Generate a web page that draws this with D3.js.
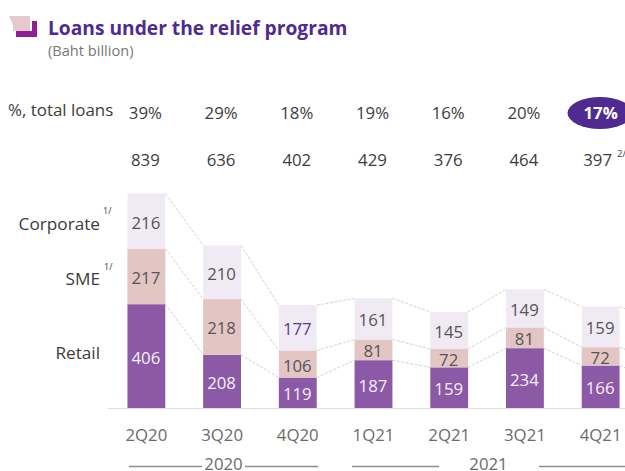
<!DOCTYPE html>
<html>
<head>
<meta charset="utf-8">
<style>
  html, body { margin: 0; padding: 0; background: #fff; }
  svg { display: block; }
  text { font-family: "Open Sans", "Noto Sans", sans-serif; }
</style>
</head>
<body>
<svg id="chart" width="625" height="471"></svg>
<script src="https://cdn.jsdelivr.net/npm/d3@7/dist/d3.min.js"></script>
<script>
const quarters = ["2Q20", "3Q20", "4Q20", "1Q21", "2Q21", "3Q21", "4Q21"];
const retail = [406, 208, 119, 187, 159, 234, 166];
const sme = [217, 218, 106, 81, 72, 81, 72];
const corporate = [216, 210, 177, 161, 145, 149, 159];
const totals = [839, 636, 402, 429, 376, 464, 397];
const shareOfLoans = ["39%", "29%", "18%", "19%", "16%", "20%", "17%"];
const segmentNames = ["Retail", "SME", "Corporate"];
const segmentFills = ["#8b59a6", "#e3c6c4", "#efeaf4"];
const segmentInk = ["#f6f0f8", "#555555", "#555555"];

const svg = d3.select("#chart");
const darkInk = "#3c3c3c";
const greyInk = "#6b6b6b";
const brand = "#4f2a90";
const bodySize = 16.8;

const x = d3.scaleBand().domain(quarters).range([108.5, 638.5]).paddingInner(0.5).paddingOuter(0.25);
const y = d3.scaleLinear().domain([0, 839]).range([408, 193.5]);

// Stack the three segments per quarter
const rows = quarters.map((q, i) => ({ q, Retail: retail[i], SME: sme[i], Corporate: corporate[i] }));
const stacked = d3.stack().keys(segmentNames)(rows);

// Dotted-looking connectors between neighbouring bars
const connectors = svg.append("g").attr("stroke", "#d2d2d2").attr("stroke-width", 1).attr("stroke-dasharray", "3 1.5").attr("fill", "none");
stacked.forEach(series => {
  series.forEach((d, i) => {
    const left = x(quarters[i]) + x.bandwidth();
    const right = i + 1 < quarters.length ? x(quarters[i + 1]) : 640;
    const nextTop = i + 1 < quarters.length ? y(series[i + 1][1]) : y(d[1]) + 8;
    connectors.append("line")
      .attr("x1", left).attr("y1", y(d[1]))
      .attr("x2", right).attr("y2", nextTop);
  });
});

// Bars
stacked.forEach((series, s) => {
  svg.append("g").attr("fill", segmentFills[s])
    .selectAll("rect").data(series).join("rect")
    .attr("x", (d, i) => x(quarters[i]))
    .attr("width", x.bandwidth())
    .attr("y", d => y(d[1]))
    .attr("height", d => y(d[0]) - y(d[1]));
});

// Values inside the segments
stacked.forEach((series, s) => {
  svg.append("g").attr("text-anchor", "middle").attr("font-size", bodySize)
    .selectAll("text").data(series).join("text")
    .attr("x", (d, i) => x(quarters[i]) + x.bandwidth() / 2 - 0.5)
    .attr("y", d => (y(d[0]) + y(d[1])) / 2 + 7.5)
    .attr("fill", (d, i) => (s === 2 && i === 2) ? "#5a3a96" : segmentInk[s])
    .text(d => d[1] - d[0]);
});

// Baseline
svg.append("line").attr("x1", 108).attr("x2", 625).attr("y1", 408.5).attr("y2", 408.5)
  .attr("stroke", "#dedede").attr("stroke-width", 1.2);

// Quarter labels via a bottom axis without its line and ticks
const axis = svg.append("g").attr("transform", "translate(0,408)")
  .call(d3.axisBottom(x).tickSize(0).tickPadding(21));
axis.select(".domain").remove();
axis.selectAll("text").attr("font-size", bodySize).attr("fill", greyInk)
  .style("font-family", '"Open Sans", "Noto Sans", sans-serif');

// Year groupings
const yearRules = [[129, 202], [245, 318], [352, 439], [539, 625]];
svg.append("g").attr("stroke", "#8f8f8f").attr("stroke-width", 1.3)
  .selectAll("line").data(yearRules).join("line")
  .attr("x1", d => d[0]).attr("x2", d => d[1]).attr("y1", 466.5).attr("y2", 466.5);
svg.append("g").attr("font-size", bodySize).attr("fill", greyInk).attr("text-anchor", "middle")
  .selectAll("text").data([["2020", 223.5], ["2021", 488.5]]).join("text")
  .attr("x", d => d[1]).attr("y", 470).text(d => d[0]);

// Highlight pill behind the latest share
svg.append("ellipse").attr("cx", 600).attr("cy", 113).attr("rx", 32.5).attr("ry", 16).attr("fill", brand);

// Share of total loans row
svg.append("g").attr("text-anchor", "middle").attr("font-size", bodySize)
  .selectAll("text").data(shareOfLoans).join("text")
  .attr("x", (d, i) => x(quarters[i]) + x.bandwidth() / 2 - (i === 6 ? 0 : 1))
  .attr("y", 119)
  .attr("fill", (d, i) => i === 6 ? "#ffffff" : darkInk)
  .attr("font-weight", (d, i) => i === 6 ? 700 : 400)
  .text(d => d);

// Totals row
svg.append("g").attr("text-anchor", "middle").attr("font-size", bodySize).attr("fill", darkInk)
  .selectAll("text").data(totals).join("text")
  .attr("x", (d, i) => x(quarters[i]) + x.bandwidth() / 2 - (i === 6 ? 3 : 1))
  .attr("y", 166)
  .text(d => d);
svg.append("text").attr("x", 617).attr("y", 157).attr("font-size", 9.5).attr("fill", darkInk).text("2/");

// Left-hand captions
svg.append("text").attr("x", 8).attr("y", 116).attr("font-size", 16.9).attr("fill", darkInk).text("%, total loans");
const captions = [["Corporate", 100, 230, "1/", 103, 214], ["SME", 100, 285, "1/", 104, 270], ["Retail", 100, 359, null]];
captions.forEach(c => {
  svg.append("text").attr("x", c[1]).attr("y", c[2]).attr("text-anchor", "end")
    .attr("font-size", 17.2).attr("fill", darkInk).text(c[0]);
  if (c[3]) {
    svg.append("text").attr("x", c[4]).attr("y", c[5]).attr("font-size", 9).attr("fill", darkInk).text(c[3]);
  }
});

// Title block with its small ribbon mark
svg.append("path").attr("d", d3.line()([[16, 37], [37, 37], [37, 21], [32, 21], [32, 31], [16, 31]])).attr("fill", "#8f1f94");
svg.append("path").attr("d", d3.line()([[9, 16], [30, 16], [30, 31], [13, 31], [13, 25]])).attr("fill", "#e6c9cd");
svg.append("text").attr("x", 48).attr("y", 35).attr("font-size", 19.2).attr("font-weight", 700).attr("fill", brand)
  .text("Loans under the relief program");
svg.append("text").attr("x", 48).attr("y", 56).attr("font-size", 14.6).attr("fill", "#777777").text("(Baht billion)");
</script>
</body>
</html>
